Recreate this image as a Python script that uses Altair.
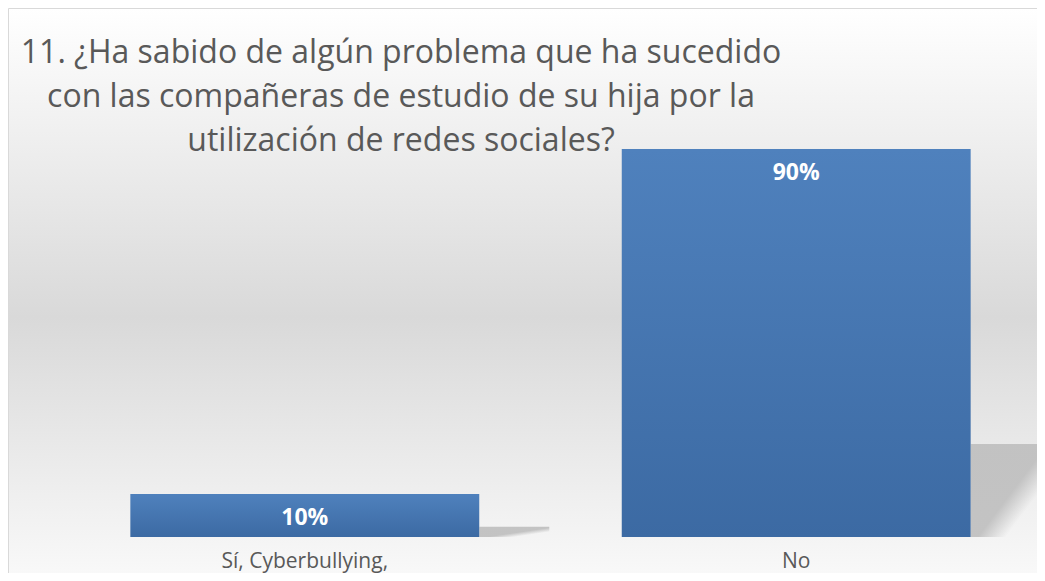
import altair as alt
import pandas as pd

categories = ["Sí, Cyberbullying,", "No"]
values = [0.10, 0.90]
title_lines = [
    "11. ¿Ha sabido de algún problema que ha sucedido",
    "con las compañeras de estudio de su hija por la",
    "utilización de redes sociales?",
]

df = pd.DataFrame({"category": categories, "value": values})

FONT = "Open Sans"
GRAY = "#595959"

bg = alt.Chart(pd.DataFrame({"k": [0]})).mark_rect(
    color=alt.Gradient(
        gradient="linear", x1=0, x2=0, y1=0, y2=1,
        stops=[alt.GradientStop(offset=0, color="#ffffff"),
               alt.GradientStop(offset=0.5, color="#d9d9d9"),
               alt.GradientStop(offset=1, color="#ffffff")],
    ),
    stroke="#d9d9d9", strokeWidth=1,
).encode(
    x=alt.value(-55.5), x2=alt.value(1100),
    y=alt.value(-97.5), y2=alt.value(520),
)

xenc = alt.X(
    "category:N", sort=categories, title=None,
    scale=alt.Scale(paddingInner=0.29, paddingOuter=0.135),
    axis=alt.Axis(labelAngle=0, ticks=False, domain=False, labelFontSize=21,
                  labelFont=FONT, labelColor=GRAY, labelPadding=13,
                  grid=False, zindex=1),
)
yenc = alt.Y("value:Q", scale=alt.Scale(domain=[0, 1]), axis=None)

base = alt.Chart(df).encode(x=xenc)

shadow = base.transform_calculate(shadow="datum.value * 0.24").mark_bar(
    width=70, xOffset=209.5,
    color=alt.Gradient(
        gradient="linear", x1=0, x2=1, y1=0, y2=1,
        stops=[alt.GradientStop(offset=0, color="rgba(190,190,190,0.9)"),
               alt.GradientStop(offset=0.55, color="rgba(190,190,190,0.9)"),
               alt.GradientStop(offset=0.75, color="rgba(190,190,190,0)")],
    ),
).encode(y=alt.Y("shadow:Q", scale=alt.Scale(domain=[0, 1]), axis=None), y2=alt.datum(0))

bars = base.mark_bar(
    color=alt.Gradient(
        gradient="linear", x1=0, x2=0, y1=0, y2=1,
        stops=[alt.GradientStop(offset=0, color="#4f81bd"),
               alt.GradientStop(offset=1, color="#3c6aa3")],
    ),
).encode(y=yenc)

labels = base.mark_text(
    baseline="alphabetic", dy=31, fontSize=23, fontWeight="bold", font=FONT,
    color="#ffffff",
).encode(y=yenc, text=alt.Text("value:Q", format=".0%"))

chart = alt.layer(bg, shadow, bars, labels).properties(
    width=973, height=431,
    padding={"left": 56, "top": 98, "right": 0, "bottom": 36},
    autosize=alt.AutoSizeParams(type="none"),
    title=alt.Title(
        text=title_lines, anchor="start", frame="group", align="center",
        dx=337, fontSize=32, font=FONT, color=GRAY, fontWeight="normal",
        lineHeight=44, baseline="alphabetic", offset=-175,
    ),
).configure_view(stroke=None)

chart.save("out.html", embed_options={"renderer": "svg", "actions": False})
